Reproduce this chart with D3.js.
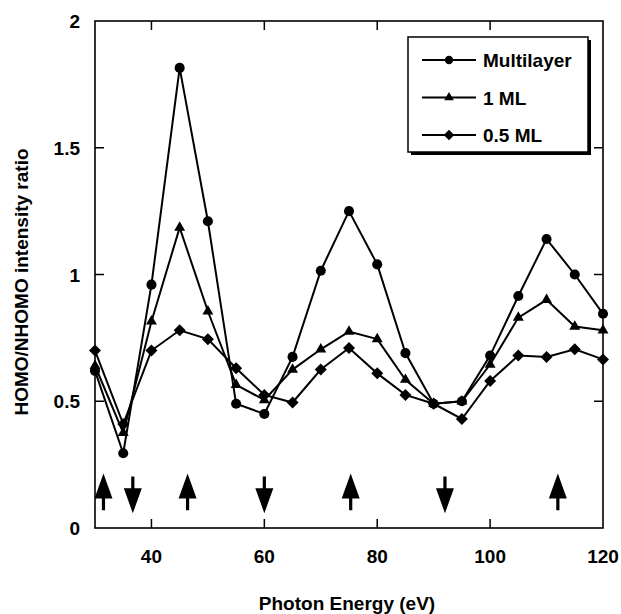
<!DOCTYPE html>
<html>
<head>
<meta charset="utf-8">
<script src="https://cdn.jsdelivr.net/npm/d3@7"></script>
<style>
body { margin: 0; background: #fff; }
text { font-family: "Liberation Sans", Arial, sans-serif; font-weight: bold; fill: #000; }
</style>
</head>
<body>
<div id="chart"></div>
<script>
// photon energy (eV)
var energy = [30, 35, 40, 45, 50, 55, 60, 65, 70, 75, 80, 85, 90, 95, 100, 105, 110, 115, 120];
var multilayer = [0.62, 0.295, 0.96, 1.815, 1.21, 0.49, 0.45, 0.675, 1.015, 1.25, 1.04, 0.69, 0.49, 0.50, 0.68, 0.915, 1.14, 1.0, 0.845];
var oneML = [0.64, 0.375, 0.815, 1.185, 0.855, 0.565, 0.505, 0.625, 0.705, 0.775, 0.745, 0.585, 0.49, 0.50, 0.645, 0.83, 0.90, 0.795, 0.78];
var halfML = [0.70, 0.41, 0.70, 0.78, 0.745, 0.63, 0.525, 0.495, 0.625, 0.71, 0.61, 0.525, 0.49, 0.43, 0.58, 0.68, 0.675, 0.705, 0.665];
var seriesNames = ["Multilayer", "1 ML", "0.5 ML"];

// arrows under the curves
var arrowEnergy = [31.5, 36.7, 46.4, 60, 75.3, 92, 112];
var arrowDir = ["up", "down", "up", "down", "up", "down", "up"];

var xTicks = [40, 60, 80, 100, 120];
var yTicks = [0, 0.5, 1, 1.5, 2];

var width = 621,
height = 614,
margin = {top: 21, bottom: 86, left: 95, right: 18};

var svg = d3.select("#chart")
	.append("svg")
	.attr("width", width)
	.attr("height", height)

var x = d3.scaleLinear()
	.domain([30, 120])
	.range([margin.left, width - margin.right]);
var y = d3.scaleLinear()
	.domain([0, 2])
	.range([height - margin.bottom, margin.top]);

var x0 = x.range()[0], x1 = x.range()[1], y0 = y.range()[0], y1 = y.range()[1];

// frame
svg.append("rect")
	.attr("x", x0).attr("y", y1)
	.attr("width", x1 - x0).attr("height", y0 - y1)
	.attr("fill", "none")
	.attr("stroke", "#000")
	.attr("stroke-width", 1.6)

// inward ticks, both sides
var tickLen = 9;
xTicks.filter(function(d) { return d > 30 && d < 120; }).forEach(function(d) {
	svg.append("line").attr("x1", x(d)).attr("x2", x(d)).attr("y1", y0).attr("y2", y0 - tickLen)
		.attr("stroke", "#000").attr("stroke-width", 1.5)
	svg.append("line").attr("x1", x(d)).attr("x2", x(d)).attr("y1", y1).attr("y2", y1 + tickLen)
		.attr("stroke", "#000").attr("stroke-width", 1.5)
})
yTicks.filter(function(d) { return d > 0 && d < 2; }).forEach(function(d) {
	svg.append("line").attr("x1", x0).attr("x2", x0 + tickLen).attr("y1", y(d)).attr("y2", y(d))
		.attr("stroke", "#000").attr("stroke-width", 1.5)
	svg.append("line").attr("x1", x1).attr("x2", x1 - tickLen).attr("y1", y(d)).attr("y2", y(d))
		.attr("stroke", "#000").attr("stroke-width", 1.5)
})

// tick labels
svg.selectAll(".xlabel")
	.data(xTicks)
	.enter().append("text")
	.attr("class", "xlabel")
	.attr("x", function(d) { return x(d); })
	.attr("y", y0 + 35)
	.attr("text-anchor", "middle")
	.style("font-size", "19px")
	.text(function(d) { return d; })

svg.selectAll(".ylabel")
	.data(yTicks)
	.enter().append("text")
	.attr("class", "ylabel")
	.attr("x", x0 - 15)
	.attr("y", function(d) { return y(d) + 7; })
	.attr("text-anchor", "end")
	.style("font-size", "19px")
	.text(function(d) { return d; })

// axis titles
svg.append("text")
	.attr("x", 347)
	.attr("y", 610)
	.attr("text-anchor", "middle")
	.style("font-size", "19px")
	.text("Photon Energy (eV)")

svg.append("text")
	.attr("transform", "translate(28,282) rotate(-90)")
	.attr("text-anchor", "middle")
	.style("font-size", "19px")
	.text("HOMO/NHOMO intensity ratio")

// series
var series = [
	{name: seriesNames[0], values: multilayer, shape: "circle"},
	{name: seriesNames[1], values: oneML, shape: "triangle"},
	{name: seriesNames[2], values: halfML, shape: "diamond"}
];

var line = d3.line()
	.x(function(d, i) { return x(energy[i]); })
	.y(function(d) { return y(d); });

function symbolPath(shape, big) {
	if (shape == "circle") return d3.symbol().type(d3.symbolCircle).size(big ? 80 : 55)();
	if (shape == "triangle") return d3.symbol().type(d3.symbolTriangle).size(big ? 52 : 40)();
	return d3.symbol().type(d3.symbolSquare).size(big ? 72 : 55)();
}

series.forEach(function(s) {
	svg.append("path")
		.attr("d", line(s.values))
		.attr("fill", "none")
		.attr("stroke", "#000")
		.attr("stroke-width", 2)
	svg.selectAll(".pt-" + s.shape)
		.data(s.values)
		.enter().append("path")
		.attr("class", "pt-" + s.shape)
		.attr("d", symbolPath(s.shape, true))
		.attr("transform", function(d, i) {
			return "translate(" + x(energy[i]) + "," + y(d) + ")" + (s.shape == "diamond" ? " rotate(45)" : "");
		})
		.attr("fill", "#000")
})

// arrows
var arrowTop = 0.215, arrowBottom = 0.07, headLen = 25, headHalf = 9, shaft = 1.6;
arrowEnergy.forEach(function(e, i) {
	var cx = x(e), ta = y(arrowTop), tb = y(arrowBottom);
	var p;
	if (arrowDir[i] == "up") {
		p = [[cx, ta], [cx + headHalf, ta + headLen], [cx + shaft, ta + headLen], [cx + shaft, tb],
			[cx - shaft, tb], [cx - shaft, ta + headLen], [cx - headHalf, ta + headLen]];
	} else {
		p = [[cx, tb + 3], [cx + headHalf, tb + 3 - headLen], [cx + shaft, tb + 3 - headLen], [cx + shaft, ta + 3],
			[cx - shaft, ta + 3], [cx - shaft, tb + 3 - headLen], [cx - headHalf, tb + 3 - headLen]];
	}
	svg.append("path")
		.attr("d", "M" + p.join("L") + "Z")
		.attr("fill", "#000")
})

// legend
var lg = svg.append("g").attr("transform", "translate(408,37)");
lg.append("rect").attr("x", 3).attr("y", 3).attr("width", 180).attr("height", 115).attr("fill", "#000")
lg.append("rect").attr("x", 0).attr("y", 0).attr("width", 180).attr("height", 115)
	.attr("fill", "#fff").attr("stroke", "#000").attr("stroke-width", 1.5)

series.forEach(function(s, i) {
	var ry = 23 + i * 37.5;
	lg.append("line").attr("x1", 14).attr("x2", 68).attr("y1", ry).attr("y2", ry)
		.attr("stroke", "#000").attr("stroke-width", 2)
	lg.append("path")
		.attr("d", symbolPath(s.shape, false))
		.attr("transform", "translate(41," + ry + ")" + (s.shape == "diamond" ? " rotate(45)" : ""))
		.attr("fill", "#000")
	lg.append("text")
		.attr("x", 75)
		.attr("y", ry + 7)
		.style("font-size", "19px")
		.text(s.name)
})
</script>
</body>
</html>
